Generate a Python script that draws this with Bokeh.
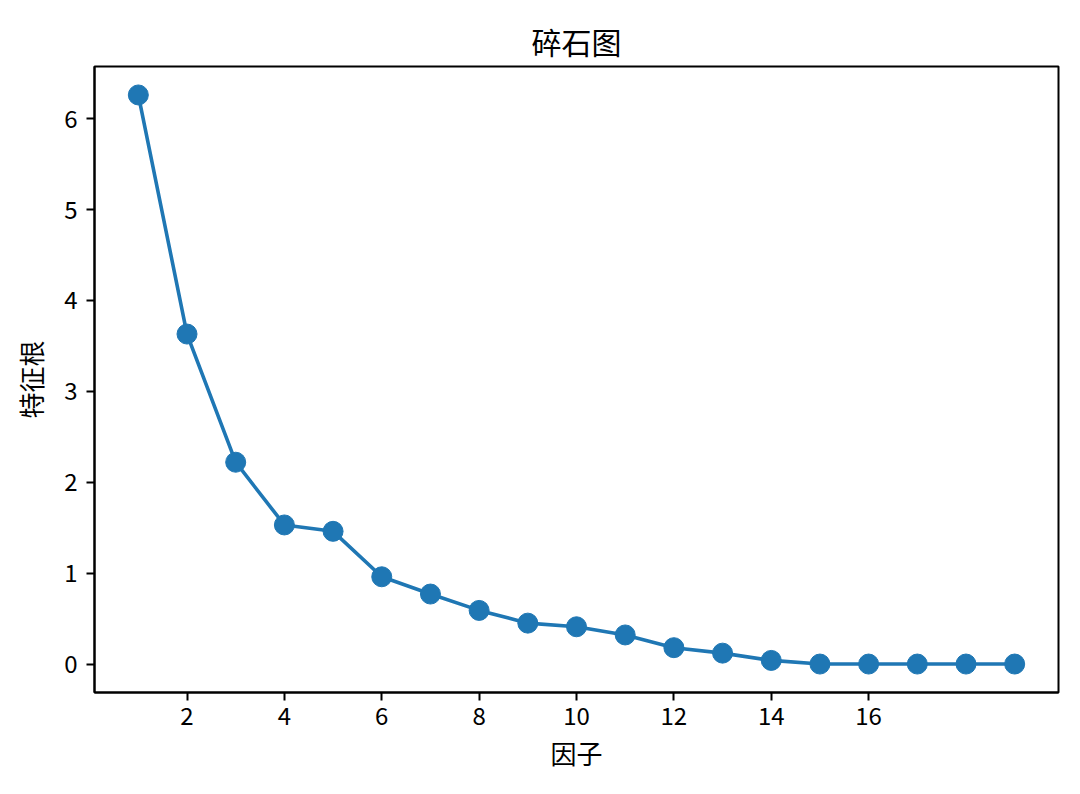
from bokeh.plotting import figure
from bokeh.models import FixedTicker, Range1d
from bokeh.embed import file_html
from bokeh.resources import INLINE

factors = list(range(1, 20))
eigenvalues = [6.26, 3.63, 2.22, 1.53, 1.46, 0.96, 0.77, 0.59, 0.45, 0.41,
               0.32, 0.18, 0.12, 0.04, 0.0, 0.0, 0.0, 0.0, 0.0]
x_ticks = [2, 4, 6, 8, 10, 12, 14, 16]
y_ticks = [0, 1, 2, 3, 4, 5, 6]

FONT = "Noto Sans CJK SC"
BLUE = "#1f77b4"

p = figure(width=1064, height=778, output_backend="svg", toolbar_location=None,
           title="碎石图",
           x_range=Range1d(0.1, 19.9), y_range=Range1d(-0.313, 6.573),
           min_border_left=94, min_border_right=6, min_border_top=66, min_border_bottom=86)

p.line(factors, eigenvalues, line_color=BLUE, line_width=3.6)
p.scatter(factors, eigenvalues, size=20, fill_color=BLUE, line_color=BLUE)

p.title.align = "center"
p.title.text_font = FONT
p.title.text_font_size = "30px"
p.title.text_font_style = "normal"
p.title.text_color = "black"
p.title.standoff = 8

p.xgrid.visible = False
p.ygrid.visible = False
p.outline_line_color = "black"
p.outline_line_width = 2

for ax in (p.xaxis[0], p.yaxis[0]):
    ax.major_label_text_font = FONT
    ax.major_label_text_font_size = "24px"
    ax.major_label_text_color = "black"
    ax.axis_label_text_font = FONT
    ax.axis_label_text_font_size = "26px"
    ax.axis_label_text_font_style = "normal"
    ax.axis_label_text_color = "black"
    ax.axis_line_color = "black"
    ax.axis_line_width = 2
    ax.major_tick_line_color = "black"
    ax.major_tick_line_width = 2
    ax.major_tick_out = 8
    ax.major_tick_in = 0
    ax.minor_tick_line_color = None

p.xaxis.ticker = FixedTicker(ticks=x_ticks)
p.yaxis.ticker = FixedTicker(ticks=y_ticks)
p.xaxis.axis_label = "因子"
p.yaxis.axis_label = "特征根"
p.yaxis.major_label_orientation = "horizontal"
p.xaxis.major_label_standoff = 6
p.yaxis.major_label_standoff = 9
p.xaxis.axis_label_standoff = 6
p.yaxis.axis_label_standoff = 12

open("out.html", "w").write(file_html(p, INLINE))
